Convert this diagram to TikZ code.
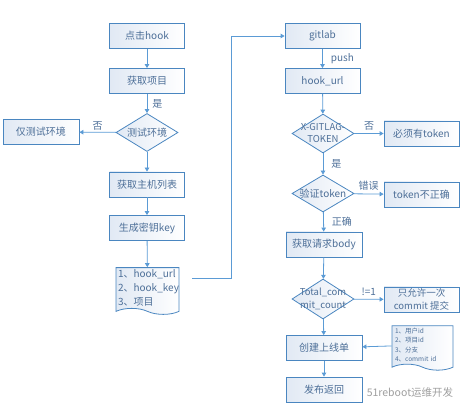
\documentclass[tikz,border=0pt]{standalone}
\usepackage{fontspec}
\setmainfont{Noto Sans CJK SC}
\usepackage{tikz}
\usetikzlibrary{positioning,arrows.meta,shapes.geometric,shapes.symbols}

\definecolor{flowline}{HTML}{5B9BD5}
\definecolor{flowedge}{HTML}{4A86C0}
\definecolor{flowtext}{HTML}{4D6F98}
\definecolor{flowfill}{HTML}{E1E9F4}

\begin{document}
\begin{tikzpicture}[x=1pt,y=-1pt,text=flowtext,font=\fontsize{10}{12}\selectfont,
	>={Triangle[length=4pt,width=4.5pt]},
	box/.style={rectangle,draw=flowedge,line width=0.8pt,left color=flowfill,right color=white,minimum width=75,minimum height=25,inner sep=1pt},
	decision/.style={diamond,draw=flowedge,line width=0.8pt,left color=flowfill,right color=white,minimum width=62,minimum height=38,inner sep=0pt},
	doc/.style={tape,tape bend top=none,tape bend bottom=out and in,tape bend height=6pt,draw=flowedge,line width=0.8pt,left color=flowfill,right color=white,align=left,inner ysep=2pt},
	link/.style={draw=flowline,line width=0.8pt,->},
	tag/.style={font=\fontsize{10}{11}\selectfont,inner sep=2pt}]
	\useasboundingbox (0,0) rectangle (469,414);

	%left column
	\node[box] (click) at (147,36) {点击hook};
	\node[box] (project) at (147,81) {获取项目};
	\node[decision,label=center:测试环境] (istest) at (147,132.5) {};
	\node[box,minimum width=76] (testonly) at (41,132) {仅测试环境};
	\node[box] (hosts) at (147,184.5) {获取主机列表};
	\node[box] (genkey) at (147,228) {生成密钥key};
	\node[doc,text width=59,inner xsep=2pt,font=\fontsize{10}{14}\selectfont] (keydoc) at (147.5,288) {1、hook\_url\\2、hook\_key\\3、项目};

	%right column
	\node[box] (gitlab) at (322.5,36) {gitlab};
	\node[box] (hookurl) at (322.5,81) {hook\_url};
	\node[decision,minimum height=39,label={[align=center,font=\fontsize{9.5}{12}\selectfont]center:X-GITLAG-\\TOKEN}] (header) at (323,133.5) {};
	\node[box] (needtoken) at (421.5,133.5) {必须有token};
	\node[decision,minimum height=37,label=center:验证token] (verify) at (323,193.5) {};
	\node[box] (badtoken) at (421.5,194.5) {token不正确};
	\node[box,minimum width=76] (body) at (324,244.5) {获取请求body};
	\node[decision,minimum height=40,label={[align=center,font=\fontsize{9.5}{13}\selectfont]center:Total\_com\\mit\_count}] (count) at (323,299) {};
	\node[box,align=center,inner ysep=0pt,font=\fontsize{9.5}{13}\selectfont] (once) at (421.5,299.5) {只允许一次\\commit 提交};
	\node[box,minimum width=76] (order) at (324,348) {创建上线单};
	\node[doc,text width=55,inner xsep=3pt,font=\fontsize{6.5}{9.5}\selectfont] (infodoc) at (422.5,345) {1、用户id\\2、项目id\\3、分支\\4、commit id};
	\node[box,minimum width=76] (publish) at (324,389.5) {发布返回};

	%watermark
	\node[text=gray!75,font=\fontsize{10.5}{12}\selectfont] (mark) at (410,393) {51reboot运维开发};

	%edges left
	\draw[link] (click) -- (project);
	\draw[link] (project) -- node[tag,right=3pt] {是} (istest);
	\draw[link] (istest) -- node[tag,above=0pt] {否} (testonly);
	\draw[link] (istest) -- (hosts);
	\draw[link] (hosts) -- (genkey);
	\draw[link] (genkey) -- (keydoc);

	%jump to the right column
	\coordinate (jump) at (192,278);
	\coordinate (bend) at (231,278);
	\draw[link] (jump) -- (bend) |- (gitlab);

	%edges right
	\draw[link] (gitlab) -- node[tag,right=6pt] {push} (hookurl);
	\draw[link] (hookurl) -- (header);
	\draw[link] (header) -- node[tag,above=1pt] {否} (needtoken);
	\draw[link] (header) -- node[tag,right=6pt] {是} (verify);
	\draw[link] (verify) -- node[tag,above=1pt] {错误} (badtoken);
	\draw[link] (verify) -- node[tag,right=6pt] {正确} (body);
	\draw[link] (body) -- (count);
	\draw[link] (count) -- node[tag,above=1pt] {!=1} (once);
	\draw[link] (count) -- (order);
	\draw[link] (infodoc) -- (order);
	\draw[link] (order) -- (publish);
\end{tikzpicture}
\end{document}
